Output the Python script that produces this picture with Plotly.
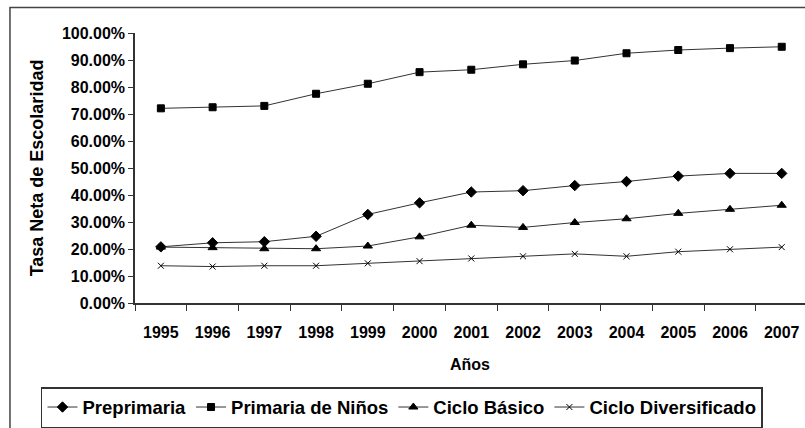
import plotly.graph_objects as go

anios = ['1995', '1996', '1997', '1998', '1999', '2000', '2001',
         '2002', '2003', '2004', '2005', '2006', '2007']

preprimaria = [20.8, 22.3, 22.7, 24.7, 32.8, 37.1, 41.1, 41.6, 43.5, 45.0, 47.0, 48.0, 48.0]
primaria_ninos = [72.1, 72.5, 73.0, 77.5, 81.2, 85.5, 86.4, 88.4, 89.8, 92.5, 93.7, 94.4, 94.9]
ciclo_basico = [20.7, 20.5, 20.1, 20.1, 21.1, 24.5, 28.8, 28.0, 29.8, 31.2, 33.2, 34.7, 36.2]
ciclo_diversificado = [13.8, 13.5, 13.8, 13.8, 14.7, 15.5, 16.5, 17.3, 18.2, 17.3, 19.0, 19.9, 20.7]

y_ticks = [0, 10, 20, 30, 40, 50, 60, 70, 80, 90, 100]
y_labels = ['%.2f%%' % v for v in y_ticks]

FONT = 'Liberation Sans, Arial, sans-serif'

series = [
    ('Preprimaria', preprimaria, 'diamond', 8),
    ('Primaria de Niños', primaria_ninos, 'square', 7),
    ('Ciclo Básico', ciclo_basico, 'triangle-up', 8),
    ('Ciclo Diversificado', ciclo_diversificado, 'x-thin', 6),
]

fig = go.Figure()
for nombre, valores, simbolo, tam in series:
    fig.add_trace(go.Scatter(
        x=anios, y=valores, name=nombre, mode='lines+markers',
        line=dict(color='#333333', width=1),
        marker=dict(symbol=simbolo, size=tam, color='black',
                    line=dict(color='black', width=1)),
    ))

fig.update_layout(
    width=805, height=428,
    margin=dict(l=135, r=0, t=33, b=120),
    plot_bgcolor='white', paper_bgcolor='white',
    font=dict(family=FONT, size=15, color='black'),
    showlegend=True,
    legend=dict(
        orientation='h', x=-0.1403, xanchor='left', y=-0.3127, yanchor='top',
        bordercolor='#333333', borderwidth=1.5, bgcolor='white',
        font=dict(family=FONT, size=18.5, color='black', weight='bold'),
        itemwidth=30, tracegroupgap=0,
    ),
    shapes=[dict(type='rect', xref='paper', yref='paper',
                 x0=-0.1866, x1=1.01, y0=-0.5, y1=1.0945,
                 line=dict(color='#444444', width=1.5))],
)

fig.update_xaxes(
    type='category', range=[-0.5, 12.45],
    showline=True, linecolor='#333333', linewidth=1.5,
    ticks='outside', tickson='boundaries', ticklen=6, tickcolor='#333333',
    ticklabelstandoff=14,
    tickfont=dict(family=FONT, size=16, weight='bold'),
    showgrid=False, zeroline=False,
    title=dict(text='<b>Años</b>', font=dict(family=FONT, size=16), standoff=19),
)
fig.update_yaxes(
    range=[0, 100], tickvals=y_ticks, ticktext=y_labels,
    showline=True, linecolor='#333333', linewidth=1.5,
    ticks='outside', ticklen=5, tickcolor='#333333',
    tickfont=dict(family=FONT, size=16, weight='bold'),
    showgrid=False, zeroline=False,
    title=dict(text='<b>Tasa Neta de Escolaridad</b>', font=dict(family=FONT, size=18), standoff=14),
)

# quitar el margen del body para que la figura empiece en (0, 0)
fig.write_html("out.html", config={'displayModeBar': False},
               post_script="document.body.style.margin='0';document.body.style.overflow='hidden';")
